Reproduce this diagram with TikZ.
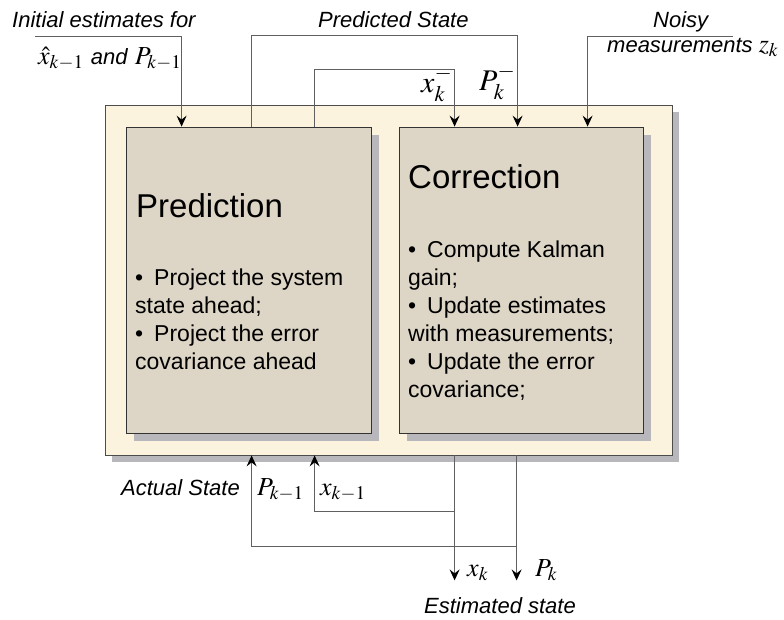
\documentclass[tikz,border=0pt]{standalone}
\usepackage{mathptmx}
\usepackage[no-math]{fontspec}
\setmainfont{Liberation Sans}
\usetikzlibrary{arrows.meta,shadows,positioning}

\definecolor{creamfill}{RGB}{252,243,222}
\definecolor{linenfill}{RGB}{221,213,197}
\definecolor{shadowgray}{RGB}{184,184,188}
\definecolor{linegray}{RGB}{96,96,96}

\newcommand{\bul}{\textbullet\hspace{11pt}}

\tikzset{
  panel/.style={draw=black!70, fill=creamfill, line width=0.8pt, inner sep=0pt,
    drop shadow={shadow xshift=7pt, shadow yshift=-7pt, fill=shadowgray, opacity=1}},
  stage/.style={draw=black!80, fill=linenfill, line width=0.8pt, inner sep=0pt,
    drop shadow={shadow xshift=8pt, shadow yshift=-8pt, fill=shadowgray, opacity=1}},
  flow/.style={draw=linegray, line width=0.9pt, -{Stealth[length=11pt,width=10pt,inset=4pt,color=black]}},
  lbl/.style={font=\fontsize{22}{26}\selectfont\itshape, inner sep=0pt, anchor=base west},
  sym/.style={font=\fontsize{26}{30}\selectfont, inner sep=0pt, anchor=base west},
  bigsym/.style={font=\fontsize{30}{34}\selectfont, inner sep=0pt, anchor=base west},
  heading/.style={font=\fontsize{33}{38}\selectfont, inner sep=0pt, anchor=base west},
  steps/.style={font=\fontsize{23}{28}\selectfont, align=left, inner sep=0pt, anchor=north west},
}

\begin{document}
\begin{tikzpicture}[x=1pt,y=-1pt]
\useasboundingbox (0,0) rectangle (784,619);

% boxes
\node[panel, minimum width=567pt, minimum height=350pt] (outer) at (388.5,280) {};
\node[stage, minimum width=245pt, minimum height=306pt] (pred) at (248.5,280) {};
\node[stage, minimum width=244pt, minimum height=306pt] (corr) at (521,280) {};

\node[heading] (predtitle) at (136,217) {Prediction};
\node[steps] (predtext) at (135,269) {\bul Project the system\\state ahead;\\\bul Project the error\\covariance ahead};
\node[heading] (corrtitle) at (408,188) {Correction};
\node[steps] (corrtext) at (408,241) {\bul Compute Kalman\\gain;\\\bul Update estimates\\with measurements;\\\bul Update the error\\covariance;};

% top labels
\node[lbl] (init1) at (12,27) {Initial estimates for};
\node[sym] (init2) at (38,64) {$\hat{x}_{k-1}$ {\fontsize{22}{26}\selectfont\itshape and} $P_{k-1}$};
\node[lbl] (predstate) at (318,27) {Predicted State};
\node[lbl] (noisy) at (653,27) {Noisy};
\node[lbl] (meas) at (607,52) {measurements {\fontsize{26}{30}\selectfont$z_k$}};
\node[bigsym] (xminus) at (421,92) {$x_k^-$};
\node[bigsym] (pminus) at (479,90) {$P_k^-$};

% bottom labels
\node[lbl, anchor=base east] (actual) at (240,495) {Actual State};
\node[sym] (pold) at (257,495) {$P_{k-1}$};
\node[sym] (xold) at (320,495) {$x_{k-1}$};
\node[sym] (xnew) at (467,576) {$x_k$};
\node[sym] (pnew) at (535,576) {$P_k$};
\node[lbl] (estimated) at (424,613) {Estimated state};

% connectors into the boxes
\coordinate (initstart) at (35,36);
\coordinate (noisyend) at (733,36);
\draw[flow] (initstart) -| ([xshift=56pt]pred.north west);
\draw[flow] ([xshift=126pt]pred.north west) -- ++(0,-91) -| ([xshift=119pt]corr.north west);
\draw[flow] ([xshift=189pt]pred.north west) -- ++(0,-57) -| ([xshift=56pt]corr.north west);
\draw[flow] (noisyend) -| ([xshift=189pt]corr.north west);

% outputs and feedback
\draw[flow] ([xshift=350pt]outer.south west) -- ++(0,125);
\draw[flow] ([xshift=412pt]outer.south west) -- ++(0,125);
\draw[flow] ([xshift=350pt,yshift=-56pt]outer.south west) -| ([xshift=210pt]outer.south west);
\draw[flow] ([xshift=412pt,yshift=-91pt]outer.south west) -| ([xshift=147pt]outer.south west);
\end{tikzpicture}
\end{document}
